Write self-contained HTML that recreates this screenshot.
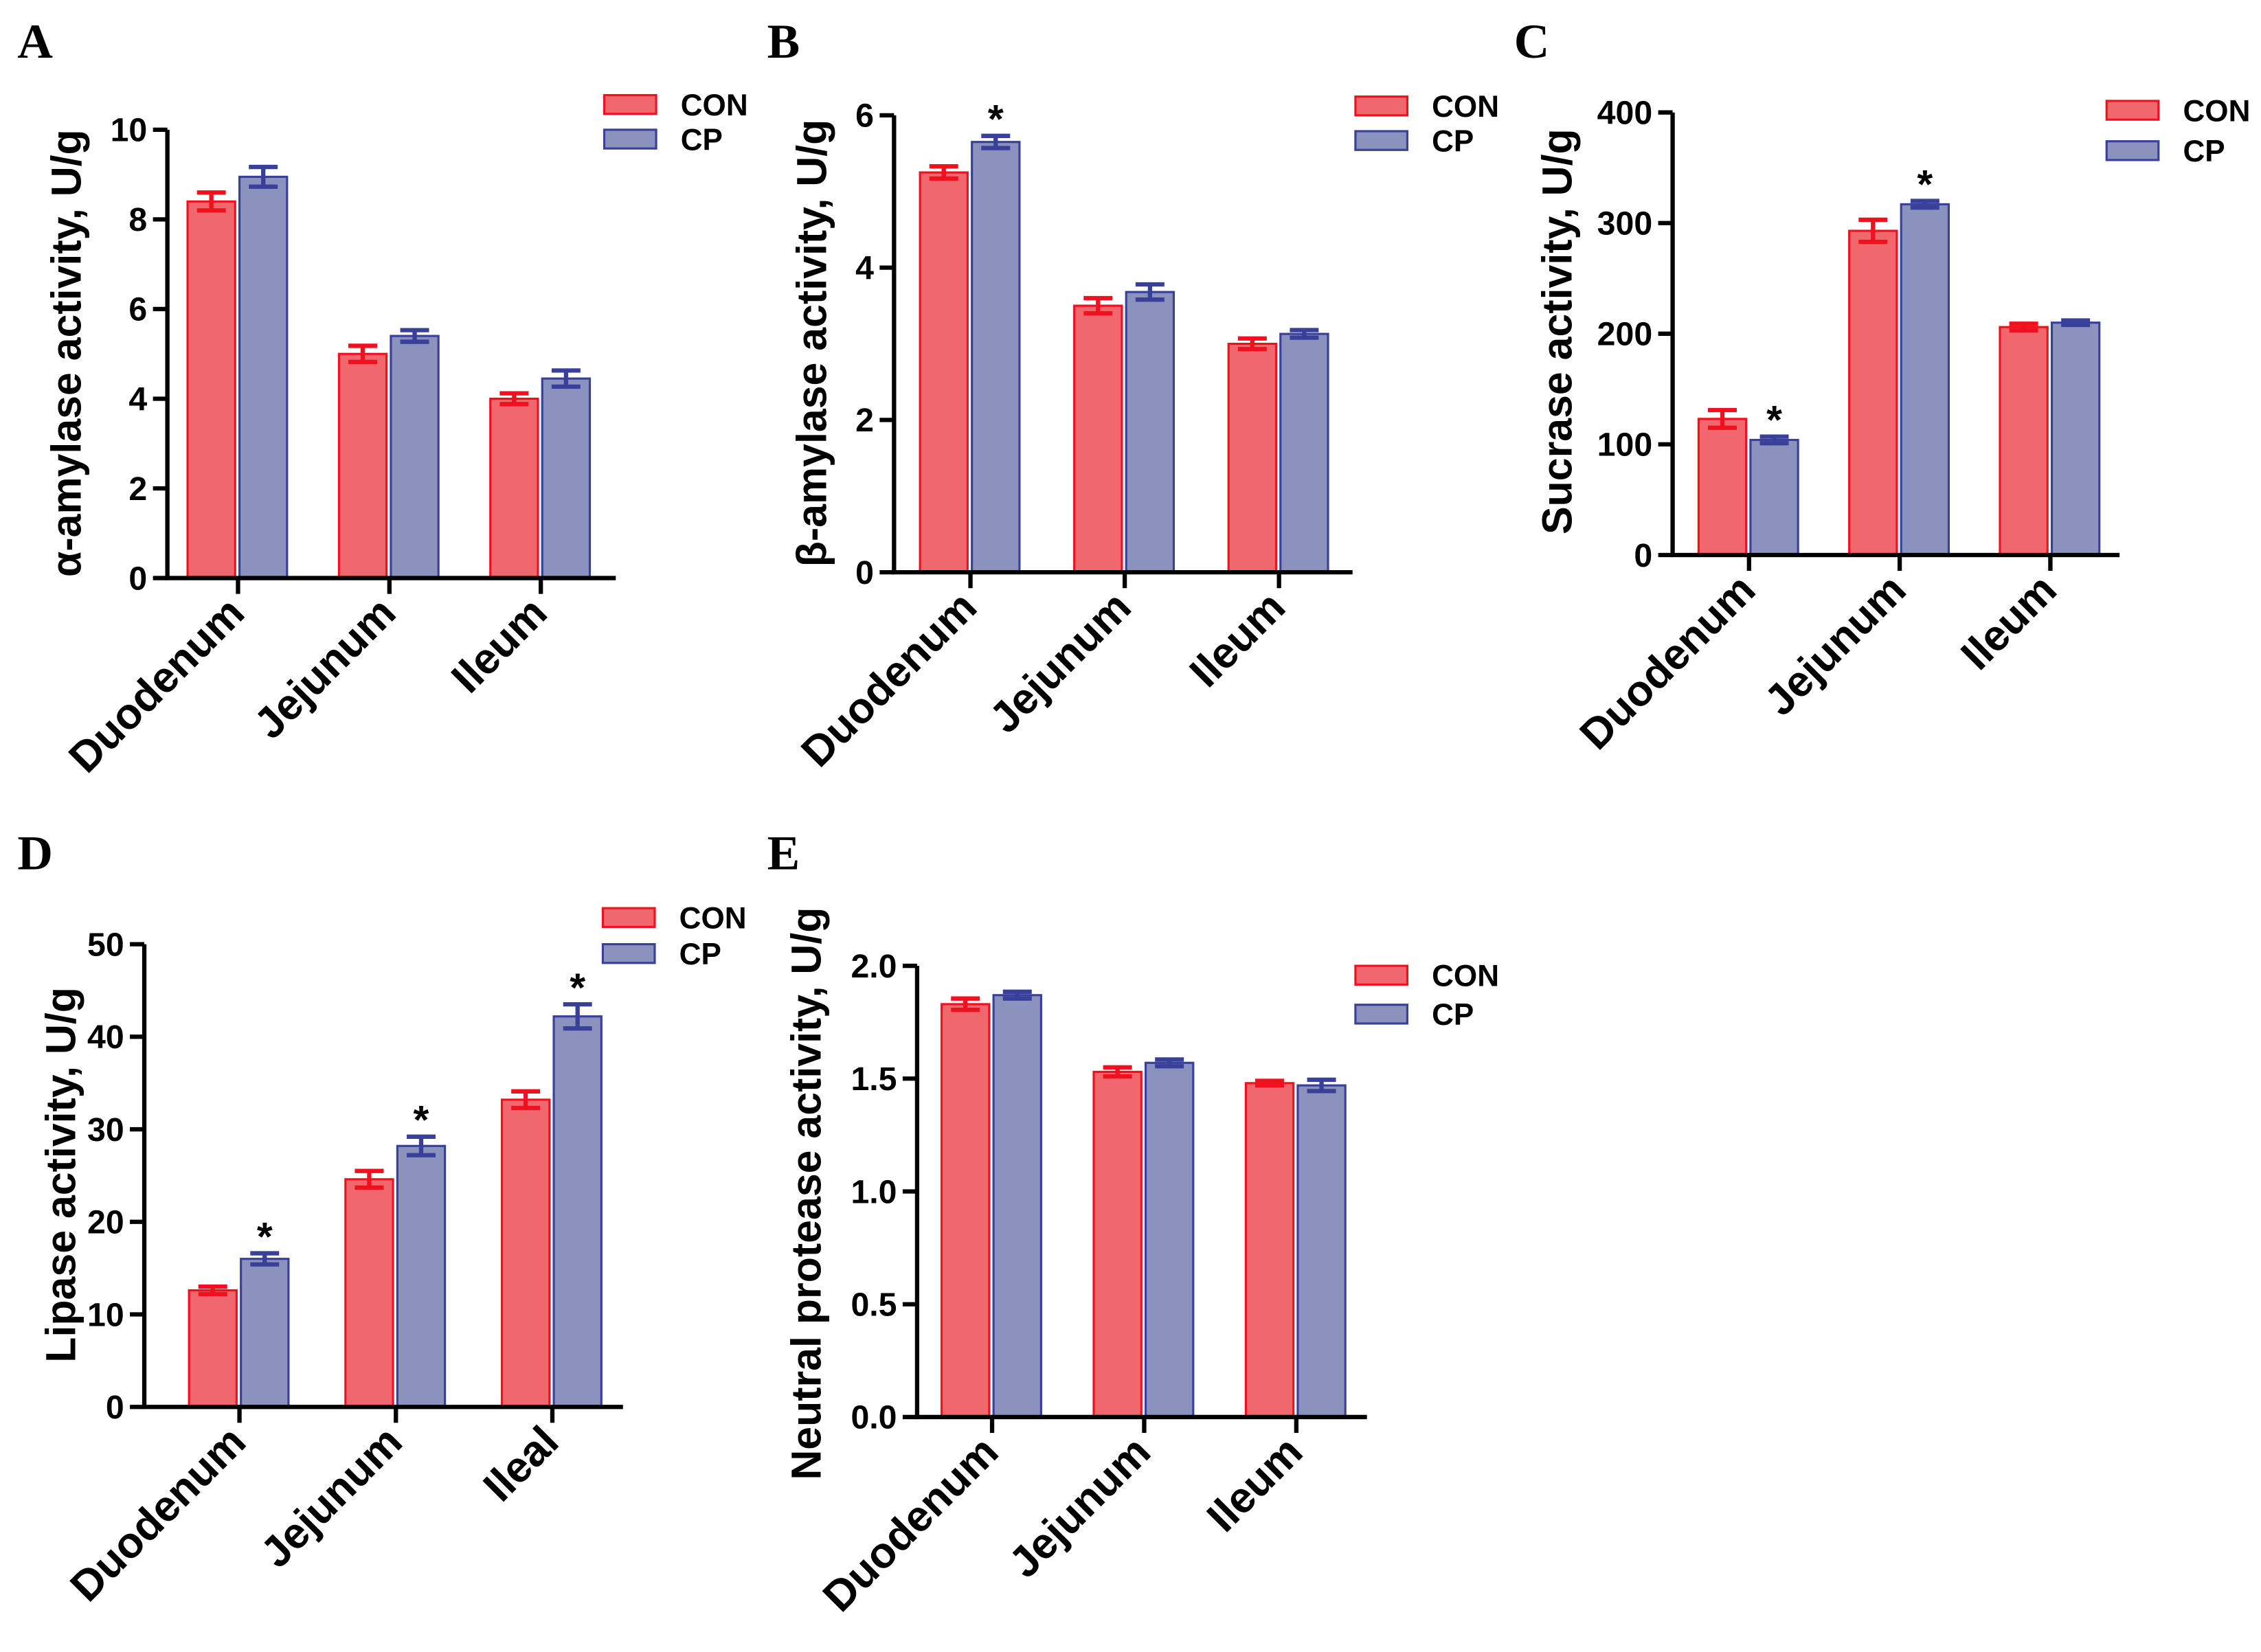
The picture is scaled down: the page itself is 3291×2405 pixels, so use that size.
<!DOCTYPE html>
<html><head><meta charset="utf-8"><style>
html,body{margin:0;padding:0;background:#fff;}
svg{display:block;font-family:"Liberation Sans",Arial,sans-serif;}
</style></head><body>
<svg id="fig" width="3291" height="2405" viewBox="0 0 1568 1146" xmlns="http://www.w3.org/2000/svg">
<rect width="1568" height="1146" fill="#fff"/>
</svg>
<script>
// Panel A
const catsA = ["Duodenum","Jejunum","Ileum"];
const conA = [8.4,5.0,4.0];
const conErrA = [0.2,0.18,0.12];
const cpA = [8.95,5.4,4.45];
const cpErrA = [0.22,0.13,0.18];
const sigA = [false,false,false];
const ticksA = ["0","2","4","6","8","10"];
// Panel B
const catsB = ["Duodenum","Jejunum","Ileum"];
const conB = [5.25,3.5,3.0];
const conErrB = [0.08,0.1,0.07];
const cpB = [5.65,3.68,3.13];
const cpErrB = [0.08,0.1,0.05];
const sigB = [true,false,false];
const ticksB = ["0","2","4","6"];
// Panel C
const catsC = ["Duodenum","Jejunum","Ileum"];
const conC = [123,293,206];
const conErrC = [8,10,3];
const cpC = [104,317,210];
const cpErrC = [3,3,2];
const sigC = [true,true,false];
const ticksC = ["0","100","200","300","400"];
// Panel D
const catsD = ["Duodenum","Jejunum","Ileal"];
const conD = [12.6,24.6,33.2];
const conErrD = [0.4,0.9,0.9];
const cpD = [16.0,28.2,42.2];
const cpErrD = [0.6,1.0,1.3];
const sigD = [true,true,true];
const ticksD = ["0","10","20","30","40","50"];
// Panel E
const catsE = ["Duodenum","Jejunum","Ileum"];
const conE = [1.83,1.53,1.48];
const conErrE = [0.025,0.02,0.01];
const cpE = [1.87,1.57,1.47];
const cpErrE = [0.015,0.015,0.025];
const sigE = [false,false,false];
const ticksE = ["0.0","0.5","1.0","1.5","2.0"];

const NS="http://www.w3.org/2000/svg";
const svg=document.getElementById('fig');
function mk(tag,attrs,parent){const e=document.createElementNS(NS,tag);for(const k in attrs)e.setAttribute(k,attrs[k]);(parent||svg).appendChild(e);return e;}
const CONF="#f0686d",CONS="#f0101e",CPF="#8a92bd",CPS="#38409a";

function panel(p){
  const g=mk('g',{});
  
  
  const L=mk('text',{x:p.lx,y:p.ly,'font-family':'"Liberation Serif",serif','font-weight':'bold','font-size':34},g);
  L.textContent=p.id;
  
  
  const ymax=parseFloat(p.ticks[p.ticks.length-1]);
  const y=v=>p.y0-(v/ymax)*(p.y0-p.y1);
  const bw=33;
  p.cats.forEach((c,i)=>{
    const cx=p.c0+i*p.step;
    [[p.con,p.conErr,CONF,CONS,cx-35,'con'],[p.cp,p.cpErr,CPF,CPS,cx+1,'cp']].forEach(s=>{
      const v=s[0][i],e=s[1][i];
      const r=mk('rect',{x:s[4],y:y(v),width:bw,height:p.y0-y(v),fill:s[2],stroke:s[3],'stroke-width':1.5},g);
      
      
      const mx=s[4]+bw/2;
      const eb=mk('path',{d:`M${mx},${y(v+e)}V${y(v-e)}M${mx-10},${y(v+e)}H${mx+10}M${mx-10},${y(v-e)}H${mx+10}`,stroke:s[3],'stroke-width':3,fill:'none'},g);
      
      
      if(s[5]==='cp'&&p.sig[i]){
        const st=mk('text',{x:mx,y:y(v+e)-2,'text-anchor':'middle','font-weight':'bold','font-size':28},g);
        st.textContent='*';
        
        
      }
    });
    const tk=mk('line',{x1:cx,x2:cx,y1:p.y0,y2:p.y0+11,stroke:'#000','stroke-width':3},g);
    
    
    const t=mk('text',{'text-anchor':'end','font-weight':'bold','font-size':30,transform:`translate(${cx+6},${p.y0+26}) rotate(-45)`},g);
    t.textContent=c;
    
    
  });
  const ax=mk('path',{d:`M${p.ax},${p.y1}V${p.y0}H${p.xe}`,stroke:'#000','stroke-width':3,fill:'none'},g);
  
  
  p.ticks.forEach(tl=>{
    const yy=y(parseFloat(tl));
    const tk=mk('line',{x1:p.ax-10,x2:p.ax,y1:yy,y2:yy,stroke:'#000','stroke-width':3},g);
    
    
    const t=mk('text',{x:p.ax-14,y:yy+8,'text-anchor':'end','font-weight':'bold','font-size':23},g);
    t.textContent=tl;
    
    
  });
  const yt=mk('text',{'text-anchor':'middle','font-weight':'bold','font-size':29,transform:`translate(${p.tx},${p.ty}) rotate(-90)`},g);
  yt.textContent=p.title;
  
  
  [['CON',CONF,CONS,0],['CP',CPF,CPS,p.lgap]].forEach(l=>{
    const r=mk('rect',{x:p.gx,y:p.gy+l[3],width:36,height:13,fill:l[1],stroke:l[2],'stroke-width':1.5},g);
    
    
    const t=mk('text',{x:p.gx+53,y:p.gy+l[3]+14,'font-weight':'bold','font-size':21},g);
    t.textContent=l[0];
    
    
  });
}
panel({id:'A',lx:12,ly:40,cats:catsA,con:conA,conErr:conErrA,cp:cpA,cpErr:cpErrA,sig:sigA,ticks:ticksA,y0:401,y1:90,ax:116,xe:427,c0:165,step:105,title:'α-amylase activity, U/g',tx:56,ty:245,gx:419,gy:66,lgap:24});
panel({id:'B',lx:532,ly:40,cats:catsB,con:conB,conErr:conErrB,cp:cpB,cpErr:cpErrB,sig:sigB,ticks:ticksB,y0:397,y1:80,ax:620,xe:938,c0:673,step:107,title:'β-amylase activity, U/g',tx:573,ty:238,gx:940,gy:67,lgap:24});
panel({id:'C',lx:1050,ly:40,cats:catsC,con:conC,conErr:conErrC,cp:cpC,cpErr:cpErrC,sig:sigC,ticks:ticksC,y0:385,y1:78,ax:1160,xe:1470,c0:1213,step:104.5,title:'Sucrase activity, U/g',tx:1090,ty:230,gx:1461,gy:70,lgap:28});
panel({id:'D',lx:12,ly:603,cats:catsD,con:conD,conErr:conErrD,cp:cpD,cpErr:cpErrD,sig:sigD,ticks:ticksD,y0:976,y1:655,ax:100,xe:432,c0:166,step:108.5,title:'Lipase activity, U/g',tx:52,ty:815,gx:418,gy:630,lgap:25});
panel({id:'E',lx:532,ly:603,cats:catsE,con:conE,conErr:conErrE,cp:cpE,cpErr:cpErrE,sig:sigE,ticks:ticksE,y0:983,y1:670,ax:636,xe:948,c0:688,step:105.5,title:'Neutral protease activity, U/g',tx:569,ty:828,gx:940,gy:670,lgap:27});
</script>
</body></html>
